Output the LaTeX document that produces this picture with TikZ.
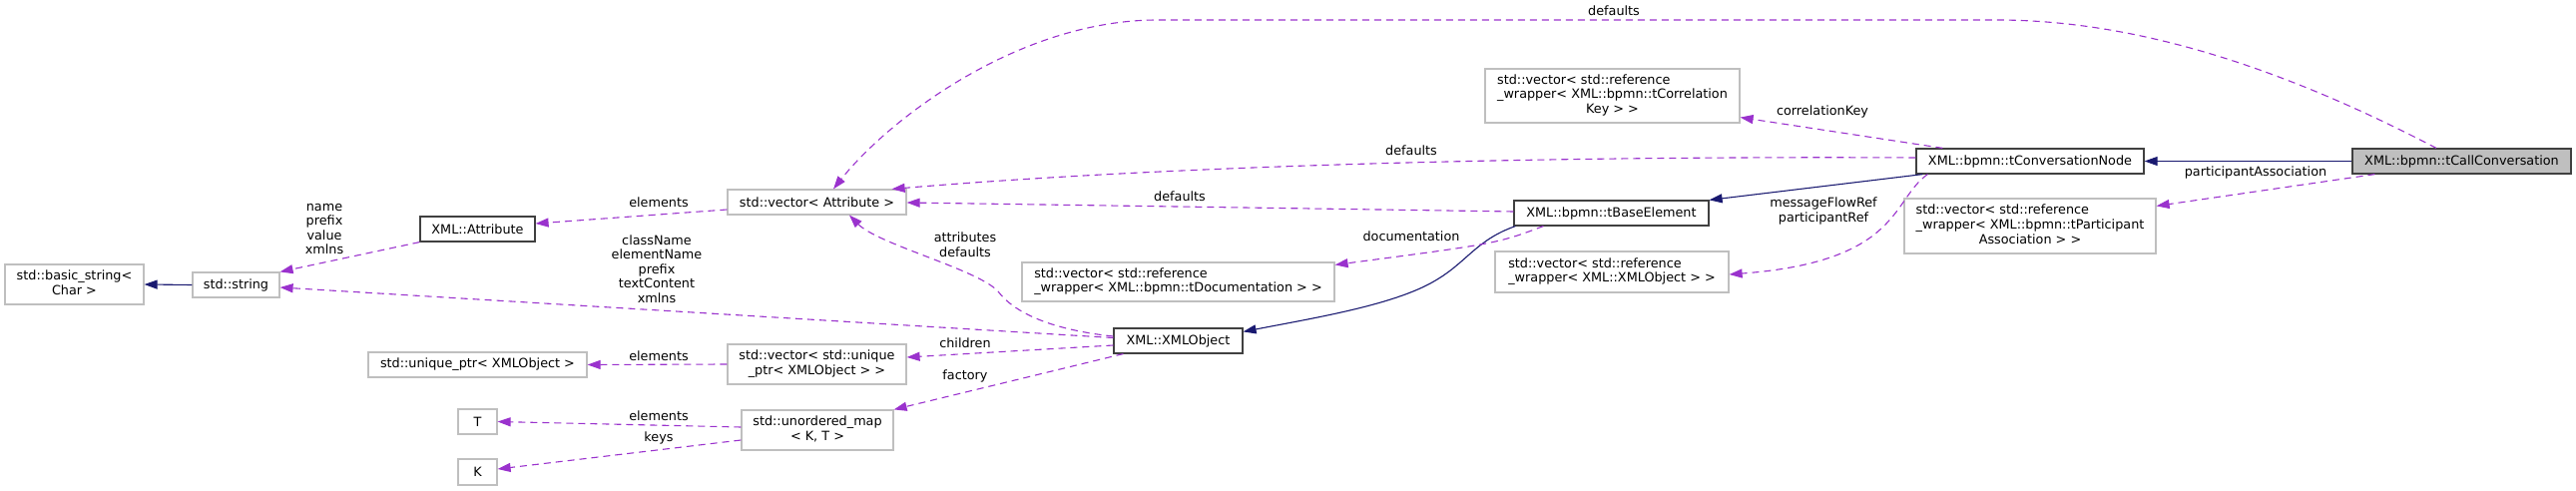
\documentclass[tikz,border=0pt]{standalone}
\usepackage{fontspec}
\setmainfont{DejaVu Sans}
\usetikzlibrary{arrows.meta,calc}
\definecolor{usepurple}{RGB}{154,50,205}
\definecolor{inhnavy}{RGB}{25,25,112}
\definecolor{boxgray}{RGB}{191,191,191}
\definecolor{boxdark}{RGB}{64,64,64}
\newcommand{\lastrow}[1]{\multicolumn{1}{@{}c@{}}{#1}}

\begin{document}
\begin{tikzpicture}[x=1pt,y=-1pt,
  cls/.style 2 args={draw=boxgray, line width=1.2pt, inner sep=0pt, minimum width=#1pt, minimum height=#2pt,
    font=\fontsize{12.8}{14.6}\selectfont, align=center},
  doc/.style 2 args={cls={#1}{#2}, draw=boxdark},
  cur/.style 2 args={doc={#1}{#2}, fill=boxgray},
  lbl/.style={inner sep=0pt, align=center, font=\fontsize{12.8}{14.6}\selectfont},
  inh/.style={draw=inhnavy, line width=1.1pt, -{Triangle[length=13pt,width=9pt]}},
  use/.style={draw=usepurple, line width=1.1pt, dash pattern=on 7pt off 5pt, -{Triangle[length=13pt,width=9pt]}}]
  \useasboundingbox (0,0) rectangle (2581,492);
  % classes, right to left
  \node[cur={219}{25}] (callconv) at (2466.5,161.5) {XML::bpmn::tCallConversation};
  \node[doc={228}{25}] (convnode) at (2034,161.5) {XML::bpmn::tConversationNode};
  \node[cls={252}{55}] (partassoc) at (2034,226.5) {\begin{tabular}{@{}l@{}}std::vector< std::reference\\\_wrapper< XML::bpmn::tParticipant\\\lastrow{Association > >}\end{tabular}};
  \node[cls={255}{54}] (corrkey) at (1615.5,96) {\begin{tabular}{@{}l@{}}std::vector< std::reference\\\_wrapper< XML::bpmn::tCorrelation\\\lastrow{Key > >}\end{tabular}};
  \node[doc={195}{25}] (baseelem) at (1614.5,213.5) {XML::bpmn::tBaseElement};
  \node[cls={234}{41}] (xmlobjref) at (1615,272.5) {\begin{tabular}{@{}l@{}}std::vector< std::reference\\\_wrapper< XML::XMLObject > >\end{tabular}};
  \node[cls={313}{39}] (docvec) at (1180.5,282.5) {\begin{tabular}{@{}l@{}}std::vector< std::reference\\\_wrapper< XML::bpmn::tDocumentation > >\end{tabular}};
  \node[doc={129}{25}] (xmlobject) at (1180.5,341.5) {XML::XMLObject};
  \node[cls={179}{25}] (attrvec) at (818.5,202.5) {std::vector< Attribute >};
  \node[cls={179}{40}] (uptrvec) at (818.5,365) {\begin{tabular}{@{}l@{}}std::vector< std::unique\\\lastrow{\_ptr< XMLObject > >}\end{tabular}};
  \node[cls={152}{40}] (umap) at (819,431) {\begin{tabular}{@{}l@{}}std::unordered\_map\\\lastrow{< K, T >}\end{tabular}};
  \node[doc={115}{25}] (attribute) at (478.5,229.5) {XML::Attribute};
  \node[cls={219}{25}] (uptr) at (478.5,365.5) {std::unique\_ptr< XMLObject >};
  \node[cls={39}{25}] (tparam) at (478.5,422.5) {T};
  \node[cls={39}{26}] (kparam) at (478.5,473) {K};
  \node[cls={87}{25}] (stdstring) at (236.5,285.5) {std::string};
  \node[cls={139}{40}] (basicstr) at (74.5,285) {\begin{tabular}{@{}l@{}}std::basic\_string<\\\lastrow{Char >}\end{tabular}};
  % inheritance
  \draw[inh] (callconv.west) -- (convnode.east);
  \draw[inh] ([xshift=7pt]convnode.south west) -- (baseelem.north east);
  \draw[inh] ([xshift=2pt]baseelem.south west) .. controls (1480,240) and (1470,262) .. (1440,280)
    .. controls (1400,305) and (1320,318) .. ([yshift=-4pt]xmlobject.north east);
  \draw[inh] (stdstring.west) -- (basicstr.east);
  % usage
  \draw[use] ([xshift=-25.5pt]callconv.north) .. controls (2300,75) and (2150,20) .. (2000,20) -- (1160,20)
    .. controls (1020,20) and (890,120) .. ([xshift=16.5pt]attrvec.north);
  \draw[use] ([xshift=23pt]callconv.south west) -- ([yshift=-8pt]partassoc.north east);
  \draw[use] ([xshift=27pt]convnode.north west) -- ([yshift=6pt]corrkey.south east);
  \draw[use] ([yshift=3.5pt]convnode.west) .. controls (1500,156) and (1150,168) .. ([xshift=-15pt]attrvec.north east);
  \draw[use] ([xshift=12pt]convnode.south west) .. controls (1895,200) and (1905,262) .. ([yshift=-2.5pt]xmlobjref.east);
  \draw[use] ([yshift=1.5pt]baseelem.west) -- ([yshift=-0.5pt]attrvec.east);
  \draw[use] ([xshift=30pt]baseelem.south west) .. controls (1500,244) .. ([yshift=-3pt]docvec.north east);
  \draw[use] ([yshift=4.5pt]xmlobject.west) .. controls (1050,330) and (1015,312) .. (1000,292)
    .. controls (980,270) and (880,245) .. ([xshift=32.5pt]attrvec.south);
  \draw[use] ([yshift=3pt]xmlobject.west) -- ([yshift=-2.5pt]stdstring.east);
  \draw[use] ([yshift=-4.5pt]xmlobject.west) -- ([yshift=7pt]uptrvec.east);
  \draw[use] ([xshift=10pt]xmlobject.south west) -- (umap.north east);
  \draw[use] ([yshift=-7.5pt]attrvec.west) -- ([yshift=5.5pt]attribute.east);
  \draw[use] (uptrvec.west) -- (uptr.east);
  \draw[use] ([yshift=3pt]umap.west) -- (tparam.east);
  \draw[use] ([yshift=-10pt]umap.west) -- ([yshift=3pt]kparam.east);
  \draw[use] (attribute.south west) -- (stdstring.north east);
  % edge labels
  \node[lbl] (ldefa) at (1617,11) {defaults};
  \node[lbl] (lcorr) at (1826,112) {correlationKey};
  \node[lbl] (ldefb) at (1414,151) {defaults};
  \node[lbl] (lpart) at (2260,173) {participantAssociation};
  \node[lbl] (ldefc) at (1182,197) {defaults};
  \node[lbl] (ldoc) at (1414,237) {documentation};
  \node[lbl] (lmsg) at (1827,211.5) {messageFlowRef\\participantRef};
  \node[lbl] (lattr) at (967,245.5) {attributes\\defaults};
  \node[lbl] (lchild) at (967,344) {children};
  \node[lbl] (lfact) at (967,377) {factory};
  \node[lbl] (lelema) at (660,203) {elements};
  \node[lbl] (lelemb) at (660,357) {elements};
  \node[lbl] (lelemc) at (660,417) {elements};
  \node[lbl] (lkeys) at (660,439) {keys};
  \node[lbl] (lname) at (325,229.5) {name\\prefix\\value\\xmlns};
  \node[lbl] (lclass) at (658,269.5) {className\\elementName\\prefix\\textContent\\xmlns};
\end{tikzpicture}
\end{document}
